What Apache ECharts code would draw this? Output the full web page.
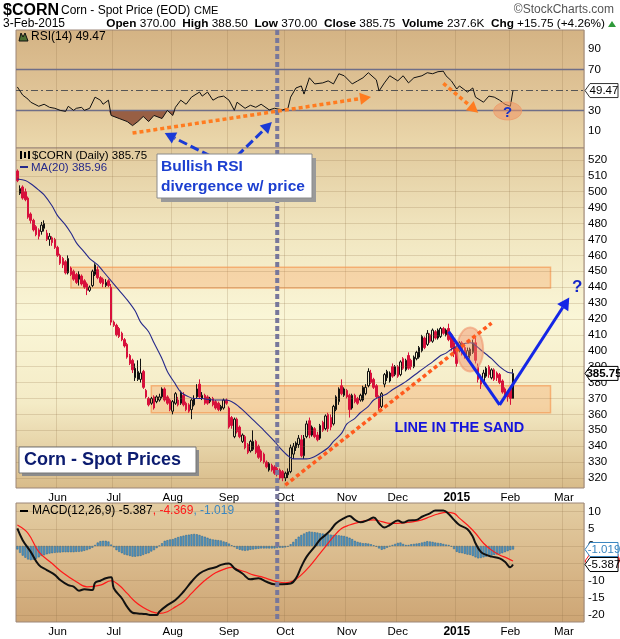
<!DOCTYPE html>
<html>
<head>
<meta charset="utf-8">
<script src="https://cdn.jsdelivr.net/npm/echarts@6/dist/echarts.min.js"></script>
<style>html,body{margin:0;padding:0;background:#fff}#c{width:620px;height:639px}</style>
</head>
<body>
<div id="c"></div>
<script>
// ---------- categories (trading days) ----------
const firstDay = '2014-05-09';
const slotCount = 212;
const holidays = ['2014-05-26','2014-07-04','2014-09-01','2014-11-27','2014-12-25','2015-01-01','2015-01-19'];
const monthNames = ['Jan','Feb','Mar','Apr','May','Jun','Jul','Aug','Sep','Oct','Nov','Dec'];

// ---------- daily candles ----------
const opens = [513,499,503,500,496,486,482,478,476,475, 477,474,470,471,470,465,460,458,456,449,
 452,450,448,445,447,444,442,438,441,448, 451,446,445,441,444,440,418,416,414,411,
 407,404,397,394,383,382,382,387,375,370, 367,371,368,369,371,376,371,369,362,367,
 369,367,372,367,366,363,366,371,379,370, 372,371,368,370,368,367,363,364,369,364,
 358,346,357,352,343,346,341,337,338,343, 340,337,335,330,325,328,327,326,325,324,
 320,322,324,335,339,341,344,334,346,356, 347,351,347,345,355,351,360,358,354,363,
 368,378,372,375,372,364,372,370,369,369, 373,378,386,382,378,371,365,379,383,381,
 390,385,390,385,395,388,397,394,390,395, 396,400,408,404,410,406,412,408,409,414,
 410,414,410,405,402,400,405,402,396,397, 399,405,390,383,381,384,390,383,388,386,
 385,381,376,374,376,370];
const closes = [507,502,496,495,484,482,476,473,472,479, 480,470,472,468,465,460,455,454,449,458,
 448,445,443,448,442,440,438,440,450,454, 446,443,442,443,441,418,416,410,409,407,
 403,396,392,388,389,387,386,377,371,366, 370,364,371,371,376,369,367,363,368,373,
 366,374,366,363,362,369,370,376,371,372, 367,367,370,366,364,363,365,369,367,352,
 353,357,349,346,347,339,336,343,343,336, 333,331,330,327,329,325,323,322,320,320,
 323,324,339,340,342,345,334,345,354,347, 352,346,344,353,350,359,351,352,365,371,
 376,373,376,371,363,372,368,367,372,377, 377,387,380,377,371,364,373,385,387,386,
 384,390,384,393,389,394,389,390,396,399, 402,409,402,411,406,413,408,413,414,411,
 413,407,402,398,392,405,398,397,400,401, 405,394,382,379,386,389,385,388,382,383,
 380,374,371,371,370,385.75];
const lows = [506,498,495,494,483,480,475,472,470,473, 475,469,466,466,464,459,454,452,448,448,
 447,444,442,441,441,439,435,437,440,447, 445,442,440,440,440,416,415,409,408,406,
 402,395,391,386,381,381,380,376,370,365, 366,363,367,368,370,368,366,362,360,366,
 365,366,365,362,361,357,365,370,370,369, 366,366,367,365,363,362,362,363,366,351,
 351,345,348,345,342,338,335,336,337,335, 332,330,329,326,324,324,322,321,319,318,
 318,320,323,332,337,339,333,332,345,345, 346,345,343,344,349,350,349,350,353,362,
 366,372,371,370,358,363,367,366,368,368, 372,377,379,376,370,362,364,377,381,380,
 383,384,383,384,388,387,388,388,389,394, 395,399,401,403,405,405,407,407,408,410,
 409,406,400,396,390,399,397,395,394,395, 398,392,380,376,379,383,383,382,381,381,
 379,373,370,368,366,370];
const highs = [514,504,504,502,497,487,483,479,477,481, 482,476,474,472,471,466,461,459,457,460,
 453,451,449,450,448,445,443,441,451,455, 453,447,446,445,445,442,419,417,415,412,
 408,405,398,395,392,394,395,388,376,371, 371,372,372,373,377,377,372,370,369,374,
 371,375,374,368,367,370,372,379,382,374, 373,372,371,371,369,368,366,370,370,365,
 359,358,358,353,348,347,342,344,350,344, 341,338,336,331,330,329,328,327,326,325,
 324,326,341,342,343,347,347,347,356,358, 353,352,349,354,356,360,361,360,366,372,
 377,382,377,376,373,373,373,371,373,378, 379,389,388,383,379,372,374,386,388,387,
 392,391,391,394,396,395,399,395,397,400, 403,410,409,413,411,414,413,414,415,415,
 414,417,411,407,404,406,406,404,402,402, 407,408,392,385,388,390,391,389,389,387,
 386,382,377,375,378,388.5];

// ---------- indicators: [dayIndex, value] ----------
const ma20 = [[0,508],[3,507],[5,505],[8,501],[10,498],[13,491],[15,485],[18,479],[20,474],[22,468],[25,462],[27,458],[30,454],[32,450],[35,444],[38,438],[41,432],[44,425],[46,418],[49,412],[51,405],[54,395],[56,387],[59,379],[61,374],[64,371],[66,370],[69,370],[71,369.5],[74,369],[78,369],[81,367],[84,363],[88,356.5],[92,350],[96,343],[98,339],[101,334],[103,332],[106,332],[108,332],[111,333.5],[113,335.5],[116,339],[118,343],[121,348],[123,354],[126,357.5],[128,361],[131,365],[133,369],[136,371.5],[138,373],[140,375.5],[145,380.6],[150,387],[155,393],[158,397],[160,398.5],[162,401],[165,403.5],[169,405],[170,404.7],[173,400.5],[177,395],[180,390],[183,386.5],[185,385.96]];
const rsi14 = [[0,53],[1,49],[2,45],[4,41],[5,38],[8,34],[10,36],[12,33],[14,32],[16,30],[18,29],[19,34],[21,30],[22,32],[24,33],[25,30],[27,32],[29,43],[31,40],[32,36],[34,40],[35,25],[38,22],[41,19],[43,15],[45,19],[47,24],[49,19],[51,25],[54,22],[56,30],[58,25],[59,33],[61,40],[63,36],[65,43],[68,48],[69,44],[71,48],[73,40],[75,43],[77,44],[79,40],[81,30],[82,38],[85,32],[87,35],[89,33],[91,36],[94,30.5],[96,32],[99,30.5],[101,32],[102,43],[104,52],[106,54],[107,46],[109,62],[111,56],[114,57],[116,59],[118,56],[120,66],[122,64],[125,56],[127,59],[129,62],[131,67],[134,60],[135,49],[137,57],[139,64],[142,59],[144,64],[146,57],[148,62],[151,64],[153,67],[155,66],[157,68],[159,68.5],[160,64],[162,59],[164,51],[165,54],[168,48],[170,52],[171,43],[174,38],[176,44],[178,43],[180,40],[182,36],[184,34],[185,49.47]];
const macdLine = [[0,5.1],[2,1.7],[5,-1.7],[8,-5.5],[11,-7],[14,-8.4],[16,-9.9],[19,-11.4],[21,-11.8],[23,-13],[25,-12.6],[28,-12.8],[29,-10.7],[31,-10.1],[33,-9.4],[35,-9.1],[36,-12.3],[39,-15.2],[41,-17.7],[43,-19.4],[45,-19.6],[48,-19.8],[50,-20.1],[52,-20.1],[53,-19.1],[56,-17.2],[59,-15.7],[62,-13.3],[65,-10.4],[68,-8],[71,-6.8],[74,-6.2],[76,-5.5],[79,-5.1],[81,-6.5],[84,-8],[87,-9.7],[90,-9.4],[93,-10.4],[96,-11.1],[99,-11.1],[102,-10.9],[104,-9.4],[106,-6],[108,-3.1],[111,-0.2],[113,1.9],[115,3.2],[117,4.7],[119,6.6],[122,8.1],[124,8.7],[126,7.6],[128,6.9],[131,7.6],[133,8.3],[135,6.6],[137,5.4],[139,6.1],[142,7.4],[144,6.8],[146,7.4],[149,7.6],[151,8.5],[154,9.5],[156,10.3],[159,10.3],[161,9.3],[163,7.6],[165,6.1],[168,4.9],[170,2.7],[171,0.8],[173,-1.7],[175,-2.6],[177,-3.1],[180,-3.6],[182,-4.6],[184,-6.2],[185,-5.387]];
const signalLine = [[0,6.1],[4,3.7],[8,-1.7],[13,-5.1],[17,-7.8],[22,-10.4],[26,-11.9],[31,-11.4],[35,-10.1],[38,-11.4],[41,-13.8],[44,-16.2],[47,-17.9],[50,-19.1],[53,-19.6],[56,-19.1],[59,-17.7],[62,-16.2],[65,-13.8],[68,-11.4],[71,-9.4],[74,-7.8],[77,-6.8],[80,-6.2],[82,-6.8],[85,-7.5],[88,-8.4],[91,-8.9],[94,-9.7],[97,-10.4],[100,-10.7],[103,-10.1],[106,-8.4],[109,-6],[112,-3.1],[115,-0.2],[118,2.7],[121,5.1],[124,6.1],[127,6.8],[130,7.4],[133,7.6],[136,7.1],[139,6.6],[142,6.6],[145,6.8],[148,7.1],[151,7.6],[154,8.5],[157,9.3],[160,9.8],[163,9.5],[165,8.1],[168,6.1],[171,3.7],[174,0.8],[177,-1.2],[180,-2.6],[183,-3.6],[185,-4.369]];
const macdHist = [-1.0,-2.0,-2.8,-3.4,-3.9,-4.1,-4.0,-3.7,-3.3,-2.9, -2.7,-2.4,-2.2,-2.1,-2.0,-1.9,-1.9,-1.8,-1.8,-1.8,
 -1.8,-1.8,-1.7,-1.7,-1.6,-1.4,-1.2,-0.9,-0.5,0.3, 1.0,1.4,1.5,1.5,1.3,0.4,-0.4,-1.2,-1.7,-2.1,
 -2.5,-2.7,-2.9,-3.1,-3.1,-3.0,-2.9,-2.6,-2.3,-2.1, -1.6,-1.2,-0.6,0.1,0.8,1.5,1.7,1.9,2.0,2.3,
 2.6,2.8,3.0,3.2,3.3,3.4,3.5,3.4,3.2,2.9, 2.7,2.4,2.1,1.9,1.8,1.7,1.6,1.3,1.1,0.7,
 0.2,-0.3,-0.8,-1.1,-1.3,-1.4,-1.3,-1.1,-1.0,-0.9, -0.8,-0.7,-0.7,-0.7,-0.7,-0.7,-0.7,-0.6,-0.5,-0.5,
 -0.4,-0.2,0.5,1.2,2.0,2.7,3.2,3.6,4.0,4.2, 4.1,4.0,3.9,3.7,3.6,3.5,3.4,3.3,3.2,3.2,
 3.1,3.0,2.9,2.7,2.4,2.0,1.5,1.2,1.0,0.8, 0.8,0.7,0.5,0.2,-0.2,-0.7,-1.1,-0.9,-0.5,-0.1,
 0.3,0.6,0.9,1.0,0.6,0.3,0.3,0.5,0.6,0.7, 0.8,1.0,1.2,1.4,1.3,1.2,1.0,0.9,0.8,0.6,
 0.4,0.3,-0.2,-0.9,-1.7,-2.0,-2.1,-2.3,-2.5,-2.6, -2.9,-3.3,-3.6,-3.5,-3.3,-3.1,-3.0,-2.8,-2.6,-2.5,
 -2.3,-2.1,-1.8,-1.5,-1.2,-1.019];

// ---------- tick labels ----------
const priceTicks = [320,330,340,350,360,370,380,390,400,410,420,430,440,450,460,470,480,490,500,510,520];
const rsiTicks = [10,30,70,90];
const rsiLevels = [30,70];
const macdTicks = [10,5,0,-5,-10,-15,-20];

// ---------- annotations (data coordinates) ----------
const zoneBands = [[20,199,439.5,452.5],[50,199,361,378]];
const rsiTrend = [[43,7.7],[132,43.1]];
const rsiDrop = [[159,56.6],[172,27.7]];
const rsiQuestion = [183,29.4];
const priceTrend = [[100,315.5],[177,417.4]];
const bluePath = [[161,412],[180,366],[206,433.5]];
const blueQuestion = [209,440];
const circleMark = [169,400.8];
const sandLabel = [165,351.5];
const divergenceFrom = [[72,522.5],[82,522.5]];
const divergenceTo = [[55,7.7],[95,18.5]];
const dividerDay = 97;

// ---------- build dates ----------
const dates = [];
(function(){
  const d = new Date(firstDay + 'T00:00:00Z');
  while (dates.length < slotCount) {
    const s = d.toISOString().slice(0,10);
    const wd = d.getUTCDay();
    if (wd !== 0 && wd !== 6 && holidays.indexOf(s) < 0) dates.push(s);
    d.setUTCDate(d.getUTCDate() + 1);
  }
})();
const isMonthStart = (idx) => idx > 0 && dates[idx].slice(0,7) !== dates[idx-1].slice(0,7);
const monthLabel = (v) => { const m = +v.slice(5,7); return m === 1 ? '{y|' + v.slice(0,4) + '}' : monthNames[m-1]; };

const candles = opens.map((o,i) => [o, closes[i], lows[i], highs[i]]);
const rsiFill = rsi14.map(p => [p[0], Math.min(p[1], 30)]);

const FONT = '"Liberation Sans", Arial, sans-serif';
const LG = (stops) => new echarts.graphic.LinearGradient(0,0,0,1, stops.map((c,k)=>({offset: k/(stops.length-1), color: c})));
const gridLineColor = 'rgba(140,110,70,0.22)';

const xAxisBase = (gi, showLabel) => ({
  type: 'category', gridIndex: gi, data: dates, boundaryGap: true,
  axisLine: {show: false}, axisTick: {show: false},
  axisLabel: {show: showLabel, interval: (i) => isMonthStart(i), formatter: monthLabel,
    fontFamily: FONT, fontSize: 11.5, color: '#000', margin: 4, rich: {y: {fontWeight: 'bold', fontSize: 12, fontFamily: FONT, color: '#000'}}},
  splitLine: {show: true, interval: (i) => isMonthStart(i), lineStyle: {color: gridLineColor, width: 1}}
});
const yAxisBase = (gi, min, max, ticks) => ({
  type: 'value', gridIndex: gi, position: 'right', min: min, max: max,
  axisLine: {show: false}, axisTick: {show: false}, splitLine: {show: false},
  axisLabel: {customValues: ticks, fontFamily: FONT, fontSize: 11.5, color: '#000', margin: 4}
});
const hLines = (vals, style) => ({symbol: 'none', silent: true, label: {show: false}, lineStyle: style, data: vals.map(v => ({yAxis: v}))});

const chart = echarts.init(document.getElementById('c'));
chart.setOption({
  animation: false,
  backgroundColor: '#ffffff',
  grid: [
    {left: 16, right: 36, top: 30, height: 118, show: true, backgroundColor: LG(['#d4b384','#dfc396','#ebd8ac']), borderColor: '#9c8679', borderWidth: 1},
    {left: 16, right: 36, top: 148, height: 340, show: true, backgroundColor: LG(['#e2cb9e','#f1e6c0','#faf6d7','#f4ebc6','#d8bb89']), borderColor: '#9c8679', borderWidth: 1},
    {left: 16, right: 36, top: 503, height: 119, show: true, backgroundColor: LG(['#e3cda2','#d9b98b','#cda574']), borderColor: '#9c8679', borderWidth: 1}
  ],
  xAxis: [xAxisBase(0,false), xAxisBase(1,true), xAxisBase(2,true)],
  yAxis: [yAxisBase(0,-7,109,rsiTicks), yAxisBase(1,313.7,527.5,priceTicks), yAxisBase(2,-22.1,12.5,macdTicks)],
  series: [
    {type: 'line', xAxisIndex: 0, yAxisIndex: 0, data: rsiFill, symbol: 'none', lineStyle: {width: 0},
     areaStyle: {color: '#93593f', opacity: 0.95, origin: 30}, z: 3, silent: true},
    {type: 'line', xAxisIndex: 0, yAxisIndex: 0, data: rsi14, symbol: 'none', lineStyle: {color: '#111', width: 1}, z: 5,
     markLine: {symbol: 'none', silent: true, label: {show: false}, data: [
       {yAxis: rsiLevels[0], lineStyle: {color: '#6e6e88', width: 1.3, type: 'solid'}},
       {yAxis: rsiLevels[1], lineStyle: {color: '#6e6e88', width: 1.3, type: 'solid'}},
       {yAxis: rsi14[rsi14.length-1][1], lineStyle: {color: '#555', width: 1, type: [7,3,2,3]}}]}},
    {type: 'line', xAxisIndex: 1, yAxisIndex: 1, data: [], symbol: 'none', z: 1,
     markLine: hLines(priceTicks, {color: gridLineColor, width: 1, type: 'solid'})},
    {type: 'candlestick', xAxisIndex: 1, yAxisIndex: 1, data: candles, barWidth: 2, z: 4,
     itemStyle: {color: 'rgba(0,0,0,0)', color0: '#d8103c', borderColor: '#111', borderColor0: '#d8103c', borderWidth: 1},
     markArea: {silent: true, itemStyle: {color: 'rgba(246,160,95,0.33)', borderColor: 'rgba(245,150,80,0.65)', borderWidth: 1.5},
       data: zoneBands.map(b => [{xAxis: b[0], yAxis: b[3]}, {xAxis: b[1], yAxis: b[2]}])}},
    {type: 'line', xAxisIndex: 1, yAxisIndex: 1, data: ma20, symbol: 'none', smooth: 0.3, lineStyle: {color: '#26298a', width: 1.1}, z: 5},
    {type: 'line', xAxisIndex: 2, yAxisIndex: 2, data: [], symbol: 'none', z: 1,
     markLine: hLines(macdTicks, {color: gridLineColor, width: 1, type: 'solid'})},
    {type: 'bar', xAxisIndex: 2, yAxisIndex: 2, data: macdHist, barWidth: 2, z: 3,
     itemStyle: {color: '#5199c9', borderColor: '#25628e', borderWidth: 0.5}},
    {type: 'line', xAxisIndex: 2, yAxisIndex: 2, data: signalLine, symbol: 'none', smooth: 0.4, lineStyle: {color: '#ff1a1a', width: 1.2}, z: 5},
    {type: 'line', xAxisIndex: 2, yAxisIndex: 2, data: macdLine, symbol: 'none', smooth: 0.4, lineStyle: {color: '#111', width: 2}, z: 6}
  ]
});

// ---------- annotations drawn on top ----------
const P = (g, p) => chart.convertToPixel({xAxisIndex: g, yAxisIndex: g}, p);
function arrow(p0, p1, color, width, dash, head) {
  const dx = p1[0]-p0[0], dy = p1[1]-p0[1], L = Math.hypot(dx, dy), ux = dx/L, uy = dy/L;
  const b = [p1[0]-ux*head, p1[1]-uy*head], nx = -uy, ny = ux, hw = head*0.55;
  return [
    {type: 'line', z: 100, shape: {x1: p0[0], y1: p0[1], x2: b[0], y2: b[1]}, style: {stroke: color, lineWidth: width, lineDash: dash}},
    {type: 'polygon', z: 100, shape: {points: [p1, [b[0]+nx*hw, b[1]+ny*hw], [b[0]-nx*hw, b[1]-ny*hw]]}, style: {fill: color}}
  ];
}
function valueBox(y, text, stroke, fill, bold, z) {
  const x0 = 585, w = 33, h = 14;
  return [
    {type: 'polygon', z: z, shape: {points: [[x0, y], [x0+5, y-h/2], [x0+w, y-h/2], [x0+w, y+h/2], [x0+5, y+h/2]]}, style: {fill: '#fff', stroke: stroke, lineWidth: 1}},
    {type: 'text', z: z+1, x: x0+5+(w-5)/2, y: y, style: {text: text, fill: fill, font: (bold ? 'bold ' : '') + '11.5px ' + FONT, align: 'center', verticalAlign: 'middle'}}
  ];
}
const els = [];
// divider
const dvx = P(1, [dividerDay, 400])[0];
els.push({type: 'line', z: 90, shape: {x1: dvx, y1: 30, x2: dvx, y2: 622}, style: {stroke: '#77779b', lineWidth: 4, lineDash: [5,3]}});
// RSI annotations
els.push(...arrow(P(0, rsiTrend[0]), P(0, rsiTrend[1]), '#ff7c20', 3.5, [4,3], 11));
els.push(...arrow(P(0, rsiDrop[0]), P(0, rsiDrop[1]), '#ff7c20', 3.5, [4,3], 11));
const qc = P(0, rsiQuestion);
els.push({type: 'ellipse', z: 99, shape: {cx: qc[0], cy: qc[1], rx: 14, ry: 9}, style: {fill: 'rgba(240,150,100,0.55)', stroke: 'rgba(240,150,100,0.7)', lineWidth: 1}});
els.push({type: 'text', z: 101, x: qc[0], y: qc[1]+2, style: {text: '?', font: 'bold 15px ' + FONT, fill: '#1530c8', align: 'center', verticalAlign: 'middle'}});
// price annotations
els.push({type: 'line', z: 95, shape: {x1: P(1, priceTrend[0])[0], y1: P(1, priceTrend[0])[1], x2: P(1, priceTrend[1])[0], y2: P(1, priceTrend[1])[1]}, style: {stroke: '#ff5a1e', lineWidth: 3.5, lineDash: [4,3]}});
const cc = P(1, circleMark);
els.push({type: 'ellipse', z: 94, shape: {cx: cc[0], cy: cc[1], rx: 13, ry: 22}, style: {fill: 'rgba(240,140,100,0.45)', stroke: 'rgba(240,150,110,0.6)', lineWidth: 2}});
const bp = bluePath.map(p => P(1, p));
els.push({type: 'polyline', z: 96, shape: {points: [bp[0], bp[1]]}, style: {stroke: '#1426e6', lineWidth: 3, fill: null}});
els.push(...arrow(bp[1], bp[2], '#1426e6', 3, null, 12));
const bq = P(1, blueQuestion);
els.push({type: 'text', z: 101, x: bq[0], y: bq[1], style: {text: '?', font: 'bold 17px ' + FONT, fill: '#1426c8', align: 'center', verticalAlign: 'middle'}});
const sl = P(1, sandLabel);
els.push({type: 'text', z: 101, x: sl[0], y: sl[1], style: {text: 'LINE IN THE SAND', font: 'bold 14.5px ' + FONT, fill: '#1414dc', align: 'center', verticalAlign: 'middle'}});
// divergence arrows
for (let k = 0; k < 2; k++) els.push(...arrow(P(1, divergenceFrom[k]), P(0, divergenceTo[k]), '#1a3ad6', 3, [9,4], 11));
// text boxes
els.push({type: 'rect', z: 102, shape: {x: 161, y: 158, width: 155, height: 44}, style: {fill: '#9a9a9a'}});
els.push({type: 'rect', z: 103, shape: {x: 157, y: 154, width: 155, height: 44}, style: {fill: '#fff', stroke: '#8a8a8a', lineWidth: 1}});
els.push({type: 'text', z: 104, x: 161, y: 167, style: {text: 'Bullish RSI', font: 'bold 15.5px ' + FONT, fill: '#1c3fd0', verticalAlign: 'middle'}});
els.push({type: 'text', z: 104, x: 161, y: 187, style: {text: 'divergence w/ price', font: 'bold 15.5px ' + FONT, fill: '#1c3fd0', verticalAlign: 'middle'}});
els.push({type: 'rect', z: 102, shape: {x: 22, y: 450, width: 177, height: 26}, style: {fill: '#8c8c8c'}});
els.push({type: 'rect', z: 103, shape: {x: 19, y: 447, width: 177, height: 26}, style: {fill: '#fff', stroke: '#777', lineWidth: 1}});
els.push({type: 'text', z: 104, x: 24, y: 460.5, style: {text: 'Corn - Spot Prices', font: 'bold 18px ' + FONT, fill: '#0c1c70', verticalAlign: 'middle'}});
// value boxes on right axis
els.push(...valueBox(P(0, [185, rsi14[rsi14.length-1][1]])[1], '49.47', '#333', '#000', false, 110));
els.push(...valueBox(P(1, [185, closes[closes.length-1]])[1], '385.75', '#000', '#000', true, 110));
els.push(...valueBox(P(2, [185, signalLine[signalLine.length-1][1]])[1], '-4.369', '#ff1a1a', '#ff1a1a', false, 110));
els.push(...valueBox(P(2, [185, macdHist[macdHist.length-1]])[1], '-1.019', '#3a86c0', '#3a86c0', false, 112));
els.push(...valueBox(P(2, [185, macdLine[macdLine.length-1][1]])[1], '-5.387', '#000', '#000', false, 114));
// header
els.push({type: 'text', z: 50, x: 3, y: 11, style: {text: '$CORN', font: 'bold 16px ' + FONT, fill: '#000', verticalAlign: 'middle'}});
els.push({type: 'text', z: 50, x: 61, y: 11, style: {text: 'Corn - Spot Price (EOD)', font: '12px ' + FONT, fill: '#000', verticalAlign: 'middle'}});
els.push({type: 'text', z: 50, x: 194, y: 11, style: {text: 'CME', font: '11px ' + FONT, fill: '#000', verticalAlign: 'middle'}});
els.push({type: 'text', z: 50, x: 614, y: 10, style: {text: '\u00A9StockCharts.com', font: '12px ' + FONT, fill: '#555', align: 'right', verticalAlign: 'middle'}});
els.push({type: 'text', z: 50, x: 3, y: 24, style: {text: '3-Feb-2015', font: '12px ' + FONT, fill: '#000', verticalAlign: 'middle'}});
els.push({type: 'text', z: 50, x: 605, y: 24, style: {
  text: '{b|Open} 370.00  {b|High} 388.50  {b|Low} 370.00  {b|Close} 385.75  {b|Volume} 237.6K  {b|Chg} +15.75 (+4.26%)',
  font: '11.8px ' + FONT, fill: '#000', align: 'right', verticalAlign: 'middle',
  rich: {b: {font: 'bold 11.8px ' + FONT, fill: '#000'}}}});
els.push({type: 'polygon', z: 50, shape: {points: [[608,27],[612,21],[616,27]]}, style: {fill: '#2f9a3a'}});
// legends
els.push({type: 'polygon', z: 50, shape: {points: [[19,41],[21,33],[23,37],[25,33],[28,41]]}, style: {fill: '#4b6e32', stroke: '#111', lineWidth: 1}});
els.push({type: 'text', z: 50, x: 31, y: 37, style: {text: 'RSI(14) 49.47', font: '12px ' + FONT, fill: '#000', verticalAlign: 'middle'}});
els.push({type: 'rect', z: 50, shape: {x: 20, y: 151, width: 2, height: 8}, style: {fill: '#000'}});
els.push({type: 'rect', z: 50, shape: {x: 24, y: 152, width: 2, height: 6}, style: {fill: '#000'}});
els.push({type: 'rect', z: 50, shape: {x: 28, y: 151, width: 2, height: 8}, style: {fill: '#000'}});
els.push({type: 'text', z: 50, x: 32, y: 156, style: {text: '$CORN (Daily) 385.75', font: '11.5px ' + FONT, fill: '#000', verticalAlign: 'middle'}});
els.push({type: 'line', z: 50, shape: {x1: 20, y1: 167, x2: 28, y2: 167}, style: {stroke: '#26298a', lineWidth: 2}});
els.push({type: 'text', z: 50, x: 31, y: 168, style: {text: 'MA(20) 385.96', font: '11.5px ' + FONT, fill: '#26298a', verticalAlign: 'middle'}});
els.push({type: 'line', z: 50, shape: {x1: 20, y1: 511, x2: 28, y2: 511}, style: {stroke: '#000', lineWidth: 2}});
els.push({type: 'text', z: 50, x: 32, y: 511, style: {
  text: 'MACD(12,26,9) -5.387{r|, -4.369}{b|, -1.019}', font: '12px ' + FONT, fill: '#000', verticalAlign: 'middle',
  rich: {r: {fill: '#ff1a1a', font: '12px ' + FONT}, b: {fill: '#3a86c0', font: '12px ' + FONT}}}});
chart.setOption({graphic: {elements: els}});
</script>
</body>
</html>
